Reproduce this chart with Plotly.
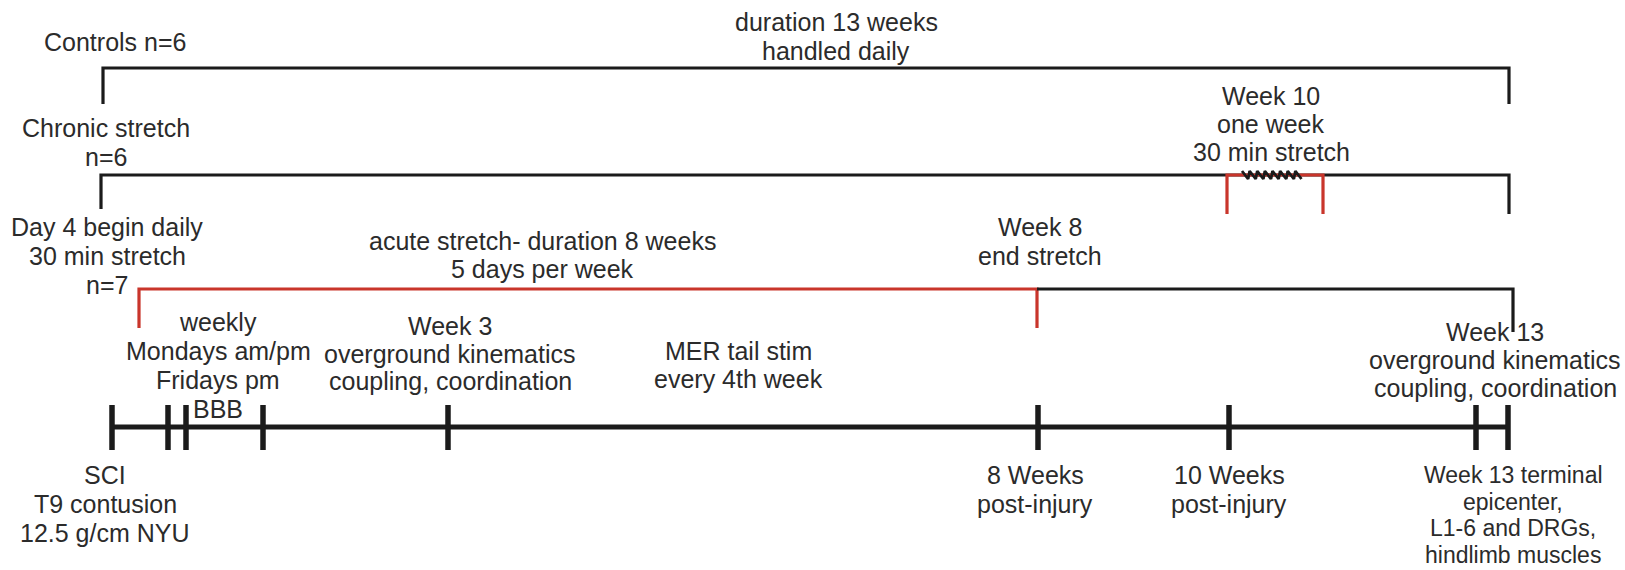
import plotly.graph_objects as go

# ---------------- data ----------------
# schematic timeline events (position along the drawn time axis)
event_names = ["SCI", "BBB Mon", "BBB Fri", "BBB wk", "Week 3", "Week 8",
               "Week 10", "Week 13 kinematics", "Week 13 terminal"]
event_pos = [112, 168, 186, 263, 448, 1038, 1229, 1476, 1508]

# group brackets
group_names = ["Controls", "Chronic stretch", "Week 10 stretch", "Acute stretch", "Acute follow-up"]
group_start = [103, 101, 1227, 139, 1037]
group_end = [1509, 1509, 1323, 1037, 1513]
group_level = [68, 175, 175, 289, 289]
group_left_drop = [104, 209, 214, 328, None]
group_right_drop = [104, 214, 214, 328, 332]
group_colour = ["black", "black", "red", "red", "black"]

# stretch coil marker (Week 10)
coil_start, coil_end, coil_level = 1242, 1303, 175

# text blocks: lines, centre x, y of each line, font size
text_blocks = [
    (["duration 13 weeks", "handled daily"], 836, [22, 51], 25),
    (["Controls n=6"], 115, [42], 25),
    (["Chronic stretch", "n=6"], 106, [128, 157], 25),
    (["Week 10", "one week", "30 min stretch"], 1271, [96, 124, 152], 25),
    (["Day 4 begin daily", "30 min stretch", "n=7"], 107, [227, 256, 285], 25),
    (["acute stretch- duration 8 weeks", "5 days per week"], 542, [241, 269], 25),
    (["Week 8", "end stretch"], 1040, [227, 256], 25),
    (["weekly", "Mondays am/pm", "Fridays pm", "BBB"], 218, [322, 351, 380, 409], 25),
    (["Week 3", "overground kinematics", "coupling, coordination"], 450, [326, 353.5, 381], 25),
    (["MER tail stim", "every 4th week"], 738, [351, 379], 25),
    (["Week 13", "overground kinematics", "coupling, coordination"], 1495, [332, 360, 388], 25),
    (["SCI", "T9 contusion", "12.5 g/cm NYU"], 105, [475, 504, 533], 25),
    (["8 Weeks", "post-injury"], 1035, [475, 504], 25),
    (["10 Weeks", "post-injury"], 1229, [475, 504], 25),
    (["Week 13 terminal", "epicenter,", "L1-6 and DRGs,", "hindlimb muscles"], 1513,
     [475, 501.5, 528, 554.5], 23),
]

# ---------------- styling ----------------
W, H = 1625, 570
COL = {"black": "#1b1b1b", "red": "#c9352b"}
TEXT_COL = "#2b2b2b"
FONT = "Liberation Sans, Arial, sans-serif"
TL_Y = 427
TICK_TOP, TICK_BOT = 405, 450

fig = go.Figure()

# brackets
for s, e, lv, ld, rd, c in zip(group_start, group_end, group_level,
                               group_left_drop, group_right_drop, group_colour):
    xs, ys = [], []
    if ld is not None:
        xs += [s]; ys += [ld]
    xs += [s, e]; ys += [lv, lv]
    if rd is not None:
        xs += [e]; ys += [rd]
    fig.add_trace(go.Scatter(x=xs, y=ys, mode="lines",
                             line=dict(color=COL[c], width=3.2),
                             hoverinfo="skip", showlegend=False))

# coil
n_coils = 8
step = (coil_end - coil_start) / n_coils
cx, cy = [], []
for i in range(n_coils):
    x0 = coil_start + i * step
    cx += [x0, x0 + step * 0.8]
    cy += [coil_level - 4, coil_level + 4]
fig.add_trace(go.Scatter(x=cx, y=cy, mode="lines",
                         line=dict(color=COL["black"], width=2.8),
                         hoverinfo="skip", showlegend=False))

# main timeline
fig.add_trace(go.Scatter(x=[event_pos[0], event_pos[-1]], y=[TL_Y, TL_Y], mode="lines",
                         line=dict(color=COL["black"], width=5),
                         hoverinfo="skip", showlegend=False))
for p in event_pos:
    fig.add_trace(go.Scatter(x=[p, p], y=[TICK_TOP, TICK_BOT], mode="lines",
                             line=dict(color=COL["black"], width=5.5),
                             hoverinfo="skip", showlegend=False))

# text
for lines, x, ys, fs in text_blocks:
    for t, y in zip(lines, ys):
        fig.add_annotation(x=x, y=y, text=t, showarrow=False,
                           xanchor="center", yanchor="middle", borderpad=0,
                           font=dict(family=FONT, size=fs, color=TEXT_COL))

fig.update_layout(
    width=W, height=H, margin=dict(l=0, r=0, t=0, b=0),
    paper_bgcolor="white", plot_bgcolor="white",
    xaxis=dict(range=[0, W], visible=False, fixedrange=True),
    yaxis=dict(range=[H, 0], visible=False, fixedrange=True),
    showlegend=False,
)

fig.write_html("out.html", config={"displayModeBar": False},
               post_script="document.body.style.margin='0';document.body.style.overflow='hidden';")
